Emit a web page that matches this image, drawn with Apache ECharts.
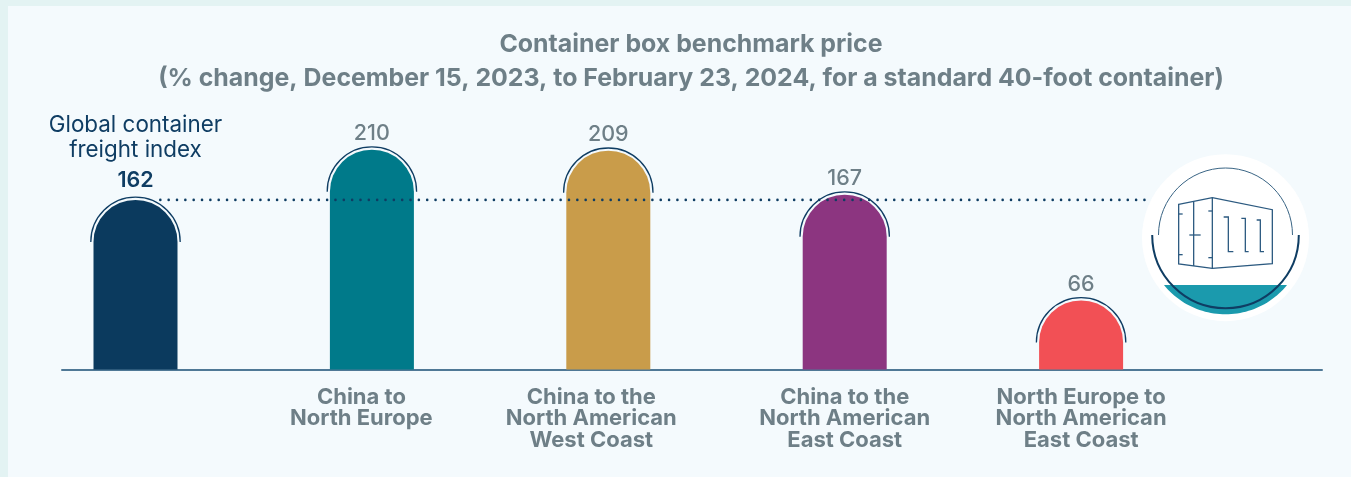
<!DOCTYPE html>
<html>
<head>
<meta charset="utf-8">
<style>html,body{margin:0;padding:0;background:#e3f3f3}#chart{width:1351px;height:477px}</style>
<script src="https://cdn.jsdelivr.net/npm/echarts@6/dist/echarts.min.js"></script>
</head>
<body>
<div id="chart"></div>
<script>
const titleLines = [
  'Container box benchmark price',
  '(% change, December 15, 2023, to February 23, 2024, for a standard 40-foot container)'
];
const categories = [
  '',
  'China to\nNorth Europe',
  'China to the\nNorth American\nWest Coast',
  'China to the\nNorth American\nEast Coast',
  'North Europe to\nNorth American\nEast Coast'
];
const indexName = ['Global container', 'freight index'];
const changes = [162, 210, 209, 167, 66];
const barColors = ['#0b3a5e', '#007a8a', '#c99c4a', '#8c3580', '#f25055'];
const indexValue = 162;

const FONT = 'Inter';
const NAVY = '#0f3d63';
const GREY = '#6e7f87';

// Emblem: circle centre and helpers, drawn in page pixels.
const ICON = { cx: 1225.5, cy: 235, ox: 1120, oy: 140 };
const iconPt = (p) => [ICON.ox + p[0] / 3, ICON.oy + p[1] / 3];
const iconLine = (pts, closed) => ({
  type: closed ? 'polygon' : 'polyline',
  shape: { points: pts.map(iconPt) },
  style: { fill: 'none', stroke: '#2c5a80', lineWidth: 1.3 },
  silent: true
});
function waterPoints() {
  const r = 79.3, pts = [];
  const a0 = Math.asin(50 / r);
  for (let i = 0; i <= 48; i++) {
    const a = a0 + (Math.PI - 2 * a0) * i / 48;
    pts.push([ICON.cx + r * Math.cos(a), ICON.cy + r * Math.sin(a)]);
  }
  return pts;
}
const containerOutline = [[176,193],[277,173],[457,209],[457,371],[277,385],[176,372]];
const containerStrokes = [
  [[221,185],[221,378]], [[277,173],[277,385]],
  [[176,222],[188,222]], [[176,344],[188,344]], [[208,285],[242,285]],
  [[265,213],[277,213]], [[265,353],[277,353]],
  [[311,231],[325,231],[325,335],[340,335]],
  [[364,235],[376,235],[376,335],[386,335]],
  [[410,240],[421,240],[421,335],[432,335]]
];

// Category label text style; the first two named routes sit slightly left of their bars.
const catStyle = { fontFamily: FONT, fontSize: 22, fontWeight: 700, color: GREY, lineHeight: 21.5 };
const catStyles = ['c', 'l1', 'l2', 'c', 'c'];
const nameStyle = { fontFamily: FONT, fontSize: 22.4, fontWeight: 400, color: NAVY, align: 'center' };

const chart = echarts.init(document.getElementById('chart'), null, { renderer: 'canvas' });
chart.setOption({
  animation: false,
  backgroundColor: '#e3f3f3',
  title: {
    text: titleLines.join('\n'),
    left: 686, top: 23, textAlign: 'center',
    textStyle: { fontFamily: FONT, fontSize: 24.9, fontWeight: 700, color: GREY, lineHeight: 34 }
  },
  grid: [
    { left: 17.3, width: 1182, top: 107.75, height: 261.75 },
    { left: 62, width: 1260, top: 108.25, height: 261.75 }
  ],
  xAxis: [
    {
      type: 'category', data: categories, gridIndex: 0,
      axisLine: { show: false }, axisTick: { show: false },
      axisLabel: {
        interval: 0, margin: 17, ...catStyle,
        formatter: (value, i) => value.split('\n').map((t) => '{' + catStyles[i] + '|' + t + '}').join('\n'),
        rich: {
          c: catStyle,
          l1: { ...catStyle, padding: [0, 21, 0, 0] },
          l2: { ...catStyle, padding: [0, 34, 0, 0] }
        }
      }
    },
    {
      type: 'value', gridIndex: 1, min: 0, max: 1,
      axisLine: { show: true, onZero: false, lineStyle: { color: '#4f7896', width: 2 } },
      axisTick: { show: false }, axisLabel: { show: false }, splitLine: { show: false }
    }
  ],
  yAxis: [
    { type: 'value', gridIndex: 0, min: 0, max: 250, show: false, splitLine: { show: false } },
    { type: 'value', gridIndex: 1, min: 0, max: 250, show: false, splitLine: { show: false } }
  ],
  series: [
    {
      type: 'bar', xAxisIndex: 0, yAxisIndex: 0, barWidth: 84, z: 2,
      data: changes.map((v, i) => ({ value: v, itemStyle: { color: barColors[i] } })),
      itemStyle: { borderRadius: [42, 42, 0, 0] },
      label: {
        show: true, position: 'top', distance: 5,
        fontFamily: FONT, fontSize: 21.5, fontWeight: 500, color: GREY,
        formatter: (p) => p.dataIndex === 0
          ? '{name1|' + indexName[0] + '}\n{name2|' + indexName[1] + '}\n{lead|' + p.value + '}'
          : String(p.value),
        rich: {
          name1: { ...nameStyle, lineHeight: 16 },
          name2: { ...nameStyle, lineHeight: 34 },
          lead: { fontFamily: FONT, fontSize: 21.5, fontWeight: 600, color: NAVY, lineHeight: 28, align: 'center' }
        }
      }
    },
    {
      // Thin arch traced just outside each rounded bar top.
      type: 'custom', xAxisIndex: 0, yAxisIndex: 0, z: 3, silent: true,
      data: changes.map((v, i) => [i, v]),
      encode: { x: 0, y: 1 },
      renderItem: (params, api) => {
        const p = api.coord([api.value(0), api.value(1)]);
        return {
          type: 'arc',
          shape: { cx: p[0], cy: p[1] + 42, r: 44.7, startAngle: Math.PI, endAngle: 2 * Math.PI },
          style: { fill: 'none', stroke: NAVY, lineWidth: 1.3 }
        };
      }
    },
    {
      // Dotted reference at the index level, running across the bars.
      type: 'custom', xAxisIndex: 0, yAxisIndex: 0, z: 4, silent: true,
      data: [[0, indexValue]],
      encode: { x: 0, y: 1 },
      renderItem: (params, api) => {
        const band = api.size([1, 0])[0];
        const a = api.coord([0, api.value(1)]);
        const b = api.coord([categories.length - 1, api.value(1)]);
        return {
          type: 'line',
          shape: { x1: a[0] + band * 0.105, y1: a[1], x2: b[0] + band * 0.27, y2: b[1] },
          style: { stroke: NAVY, lineWidth: 2.6, lineCap: 'round', lineDash: [0.01, 8.33] }
        };
      }
    }
  ],
  graphic: [
    {
      type: 'rect', z: -10, silent: true,
      shape: { x: 8, y: 6, width: 1343, height: 471 },
      style: { fill: '#f4fafd' }
    },
    {
      type: 'group', z: 20, silent: true,
      children: [
        { type: 'circle', shape: { cx: ICON.cx, cy: 237.7, r: 83.5 }, style: { fill: '#ffffff' } },
        { type: 'polygon', shape: { points: waterPoints() }, style: { fill: '#1b9aad' } },
        { type: 'arc', shape: { cx: ICON.cx, cy: ICON.cy, r: 67, startAngle: Math.PI, endAngle: 2 * Math.PI }, style: { fill: 'none', stroke: '#3a6585', lineWidth: 1 } },
        { type: 'arc', shape: { cx: ICON.cx, cy: ICON.cy, r: 73.3, startAngle: 0, endAngle: Math.PI }, style: { fill: 'none', stroke: NAVY, lineWidth: 2 } },
        iconLine(containerOutline, true),
        ...containerStrokes.map((s) => iconLine(s, false))
      ]
    }
  ]
});
</script>
</body>
</html>
